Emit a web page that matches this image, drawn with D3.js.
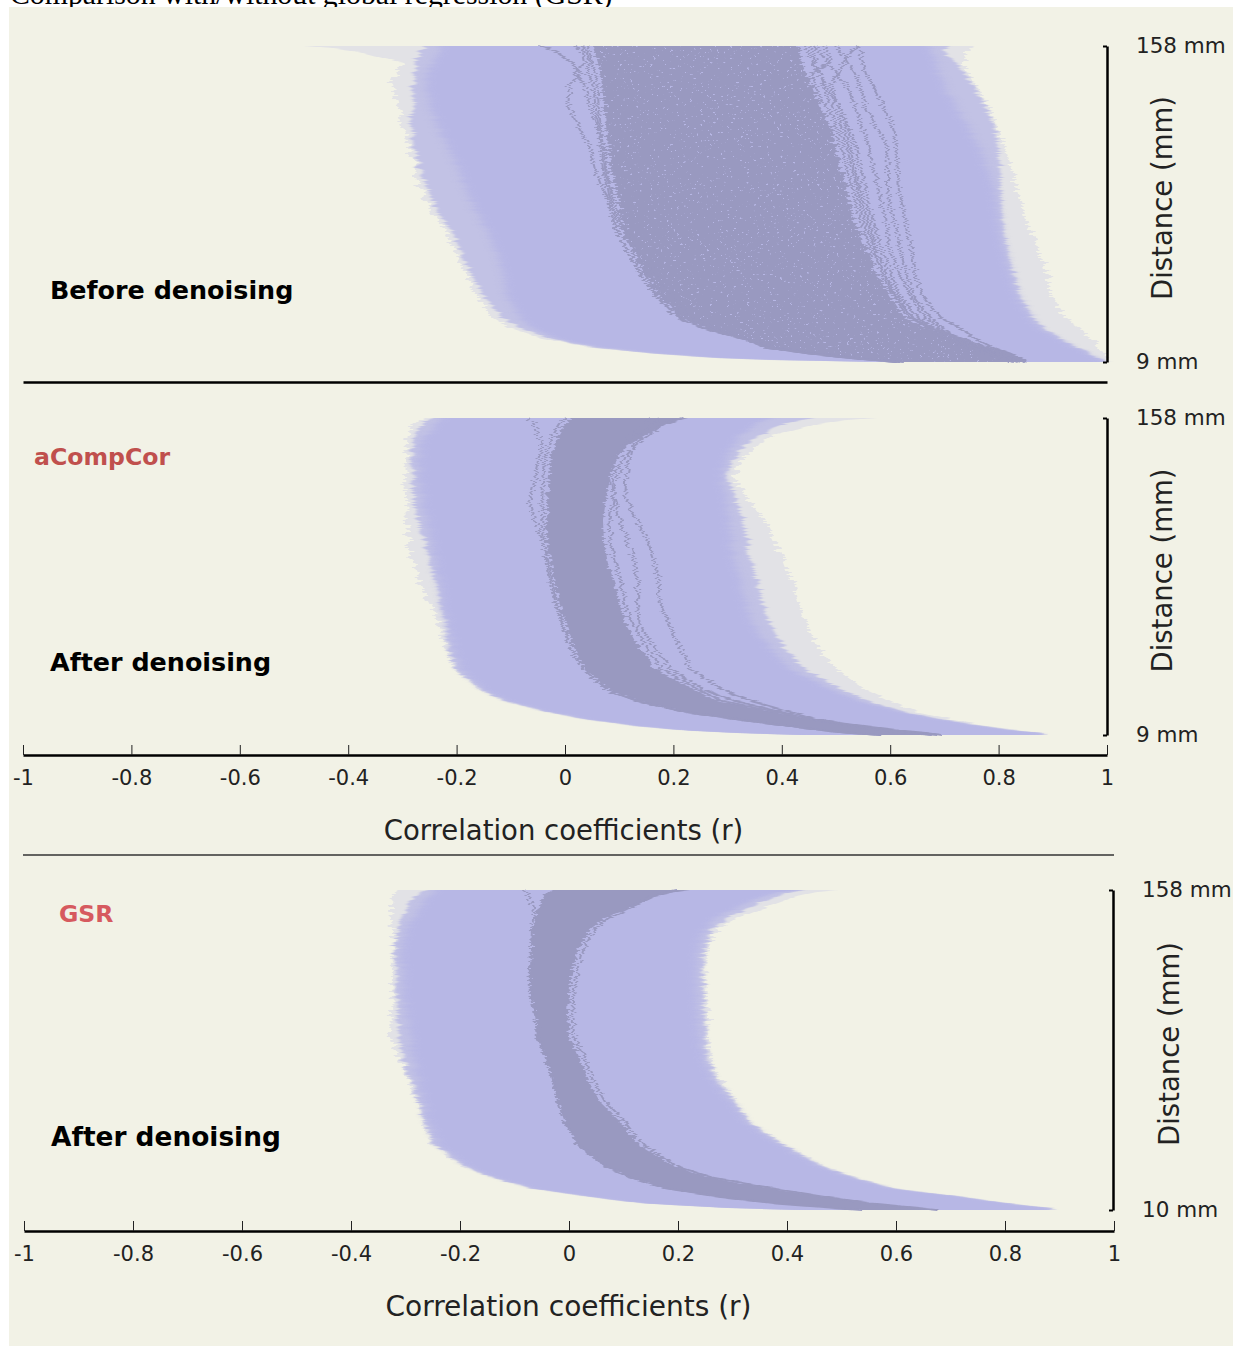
<!DOCTYPE html>
<html>
<head>
<meta charset="utf-8">
<script src="https://cdn.jsdelivr.net/npm/d3@7"></script>
<style>
  body { margin: 0; background: #fff; }
  text { font-family: "DejaVu Sans", sans-serif; fill: #222; }
  .axis .domain { stroke: #000; stroke-width: 2.5; }
  .axis line { stroke: #222; stroke-width: 1; }
  .axis text { font-family: "DejaVu Sans", sans-serif; fill: #222; }
</style>
</head>
<body>
<div class="graphic"></div>
<script>
// distance levels (mm)
const distance = [158, 157, 155, 150, 145, 140, 130, 120, 110, 100, 90, 80, 70, 60, 50, 40, 30, 25, 20, 16, 13, 11, 10, 9]
const distance_gsr = [158, 157, 155, 150, 145, 140, 130, 120, 110, 100, 90, 80, 70, 60, 50, 40, 30, 25, 20, 16, 13, 11, 10]

const r_ticks = [-1, -0.8, -0.6, -0.4, -0.2, 0, 0.2, 0.4, 0.6, 0.8, 1]
const mm_ticks = [9, 158]
const mm_ticks_gsr = [10, 158]

// before denoising: envelopes, r at each distance
const before_grey_lo = [-.480,-.434,-.378,-.301,-.312,-.321,-.310,-.297,-.286,-.279,-.268,-.245,-.220,-.201,-.183,-.162,-.135,-.101,-.037,.046,.157,.268,.378,.581]
const before_grey_hi = [.756,.747,.740,.734,.747,.756,.780,.797,.812,.825,.834,.845,.860,.876,.889,.898,.923,.952,.970,.982,.991,.997,.998,1.0]
const before_light_lo = [-.258,-.260,-.268,-.275,-.279,-.280,-.282,-.284,-.279,-.268,-.253,-.234,-.208,-.190,-.172,-.149,-.116,-.083,-.028,.050,.161,.271,.382,.581]
const before_light_hi = [.710,.703,.699,.723,.738,.751,.775,.793,.799,.803,.804,.806,.810,.817,.828,.839,.862,.881,.914,.943,.969,.984,.991,.998]
const before_blue_lo = [-.231,-.232,-.236,-.245,-.253,-.256,-.249,-.234,-.216,-.197,-.183,-.164,-.142,-.125,-.114,-.107,-.083,-.061,-.013,.065,.175,.286,.397,.581]
const before_blue_hi = [.673,.673,.677,.685,.692,.699,.720,.744,.766,.780,.793,.799,.803,.812,.823,.836,.858,.876,.910,.939,.965,.980,.987,.995]
const before_dark_lo = [.052,.052,.055,.061,.065,.068,.072,.076,.079,.085,.094,.101,.109,.129,.149,.175,.212,.260,.332,.373,.452,.526,.568,.618]
const before_dark_hi = [.434,.434,.434,.437,.445,.456,.470,.489,.500,.511,.522,.530,.544,.559,.578,.600,.627,.664,.729,.775,.812,.830,.839,.849]

// single subjects that leave the dark mass
const before_line_a = [.539,.540,.544,.550,.555,.565,.587,.605,.611,.614,.616,.625,.633,.640,.646,.659,.692,.729,.758,.788,.821,.839,.847,.852]
const before_line_b = [.502,.504,.509,.522,.535,.542,.554,.574,.594,.596,.596,.603,.613,.620,.631,.642,.673,.696,.725,.766,.803,.825,.836,.843]
const before_line_c = [.461,.463,.470,.485,.500,.518,.535,.548,.559,.570,.579,.589,.594,.603,.618,.637,.664,.688,.720,.756,.793,.817,.828,.839]
const before_line_d = [.445,.445,.448,.458,.470,.482,.504,.522,.537,.546,.555,.563,.574,.589,.603,.618,.651,.677,.710,.747,.784,.808,.821,.832]
const before_line_e = [.539,.535,.526,.513,.504,.493,.504,.517,.526,.535,.544,.555,.566,.577,.592,.609,.640,.666,.701,.738,.775,.799,.812,.825]
const before_line_f = [-.044,-.033,-.015,.013,.028,.009,.006,.024,.046,.055,.070,.092,.111,.138,.166,.197,.234,.279,.338,.387,.461,.535,.577,.627]
const before_line_g = [.018,.024,.033,.037,.015,.037,.046,.059,.072,.076,.083,.098,.112,.130,.150,.180,.220,.268,.335,.378,.455,.530,.570,.620]
const before_line_h = [.455,.456,.458,.462,.470,.478,.492,.508,.520,.530,.540,.548,.560,.575,.592,.612,.640,.676,.735,.778,.815,.833,.842,.850]
const before_line_i = [.478,.480,.484,.490,.455,.462,.480,.498,.510,.520,.532,.540,.552,.568,.586,.606,.634,.670,.732,.776,.813,.832,.840,.850]
const before_line_j = [.040,.042,.045,.050,.055,.060,.062,.066,.070,.074,.082,.090,.098,.118,.140,.168,.206,.254,.328,.370,.448,.522,.565,.615]
const before_line_k = [.030,.035,.040,.046,.040,.052,.056,.062,.066,.070,.078,.085,.095,.120,.142,.170,.208,.256,.330,.371,.450,.524,.566,.616]

// after denoising, aCompCor
const acomp_grey_lo = [-.258,-.267,-.278,-.290,-.292,-.293,-.295,-.293,-.292,-.288,-.282,-.267,-.247,-.231,-.221,-.207,-.157,-.111,-.037,.046,.138,.232,.304,.434]
const acomp_grey_hi = [.572,.517,.461,.387,.352,.332,.310,.341,.369,.389,.406,.421,.434,.448,.467,.500,.559,.600,.650,.720,.784,.839,.880,.886]
const acomp_light_lo = [-.245,-.253,-.262,-.275,-.280,-.282,-.282,-.279,-.271,-.260,-.249,-.238,-.229,-.219,-.214,-.201,-.153,-.109,-.035,.048,.140,.232,.306,.434]
const acomp_light_hi = [.461,.434,.397,.360,.332,.314,.297,.314,.327,.336,.345,.356,.365,.382,.406,.443,.513,.559,.622,.701,.775,.834,.876,.882]
const acomp_blue_lo = [-.229,-.232,-.240,-.256,-.268,-.271,-.269,-.264,-.256,-.247,-.240,-.232,-.225,-.216,-.208,-.194,-.149,-.105,-.031,.052,.144,.236,.310,.434]
const acomp_blue_hi = [.378,.369,.351,.327,.308,.301,.290,.297,.304,.308,.315,.325,.334,.351,.378,.415,.494,.544,.614,.696,.771,.830,.873,.880]
const acomp_dark_lo = [.009,.006,-.002,-.013,-.020,-.026,-.030,-.033,-.033,-.033,-.026,-.018,-.009,.002,.017,.037,.083,.138,.221,.332,.424,.489,.526,.581]
const acomp_dark_hi = [.227,.212,.190,.148,.116,.098,.083,.076,.070,.072,.079,.092,.101,.116,.138,.166,.240,.282,.378,.461,.554,.618,.664,.692]

const acomp_line_a = [.175,.172,.161,.138,.124,.120,.113,.111,.133,.153,.166,.173,.175,.194,.214,.231,.293,.345,.415,.470,.544,.600,.637,.683]
const acomp_line_b = [.157,.153,.142,.124,.105,.094,.087,.090,.101,.116,.127,.135,.135,.138,.166,.194,.258,.314,.397,.461,.535,.590,.627,.673]
const acomp_line_c = [-.065,-.063,-.057,-.050,-.044,-.046,-.055,-.065,-.055,-.041,-.030,-.022,-.013,-.002,.013,.033,.079,.134,.217,.328,.420,.485,.522,.577]
const acomp_line_d = [.215,.200,.180,.155,.128,.110,.095,.088,.082,.084,.092,.105,.113,.128,.150,.178,.248,.290,.385,.465,.556,.620,.665,.692]
const acomp_line_e = [.000,-.004,-.010,-.022,-.030,-.036,-.040,-.042,-.040,-.040,-.034,-.026,-.016,-.004,.012,.032,.078,.132,.216,.328,.420,.486,.524,.578]

// after denoising, GSR
const gsr_grey_lo = [-.310,-.317,-.325,-.327,-.325,-.323,-.323,-.323,-.323,-.325,-.327,-.312,-.295,-.277,-.266,-.248,-.191,-.141,-.068,.039,.139,.277,.424]
const gsr_grey_hi = [.494,.451,.415,.360,.310,.273,.251,.250,.251,.253,.255,.259,.277,.306,.336,.396,.470,.525,.598,.727,.809,.883,.892]
const gsr_light_lo = [-.259,-.273,-.284,-.295,-.306,-.314,-.317,-.317,-.316,-.314,-.310,-.303,-.292,-.275,-.264,-.246,-.189,-.139,-.066,.040,.141,.279,.424]
const gsr_light_hi = [.433,.406,.378,.332,.292,.262,.246,.244,.246,.248,.250,.253,.272,.301,.332,.393,.466,.521,.594,.723,.806,.879,.888]
const gsr_blue_lo = [-.248,-.251,-.259,-.273,-.288,-.301,-.308,-.306,-.305,-.299,-.292,-.286,-.277,-.268,-.257,-.240,-.185,-.136,-.062,.044,.145,.283,.424]
const gsr_blue_hi = [.424,.387,.354,.310,.268,.251,.237,.235,.235,.237,.240,.248,.266,.297,.328,.389,.462,.517,.591,.719,.802,.875,.886]
const gsr_dark_lo = [-.031,-.039,-.046,-.057,-.062,-.068,-.070,-.072,-.072,-.062,-.059,-.042,-.031,-.020,-.007,.015,.066,.112,.176,.277,.378,.479,.534]
const gsr_dark_hi = [.222,.194,.158,.116,.066,.039,.015,.006,.000,-.002,.002,.020,.035,.057,.097,.130,.194,.255,.369,.470,.552,.635,.675]

const gsr_line_a = [-.081,-.079,-.075,-.068,-.064,-.066,-.068,-.070,-.070,-.060,-.057,-.040,-.029,-.018,-.005,.017,.068,.114,.178,.279,.380,.481,.536]
const gsr_line_b = [.200,.180,.148,.112,.072,.048,.024,.014,.008,.006,.010,.028,.044,.066,.104,.138,.200,.262,.373,.473,.554,.636,.676]

const width = 1237
const height = 1347

const colors = {grey: "#e2e2e6", light: "#c2c2e5", blue: "#b7b7e5", dark: "#9999c0"}

let svg = d3.select(".graphic").append("svg")
    .attr("width", width)
    .attr("height", height)
    .style("display", "block")

svg.append("text")
    .attr("x", 10)
    .attr("y", 4)
    .style("font-family", "'Liberation Serif', serif")
    .style("font-size", "29.8px")
    .style("fill", "#000")
    .text("Comparison with/without global regression (GSR)")

svg.append("rect")
    .attr("x", 9)
    .attr("y", 7)
    .attr("width", 1224)
    .attr("height", 1339)
    .attr("fill", "#f2f2e6")

// the edges of the real figure are hairy, this shakes the shapes sideways only
let defs = svg.append("defs")

function addRough(id, freq, scale, seed, blur, speckle){
    let f = defs.append("filter")
        .attr("id", id)
        .attr("filterUnits", "userSpaceOnUse")
        .attr("x", 0).attr("y", 0)
        .attr("width", width).attr("height", height)
        .attr("color-interpolation-filters", "sRGB")

    f.append("feTurbulence")
        .attr("type", "fractalNoise")
        .attr("baseFrequency", freq)
        .attr("numOctaves", 2)
        .attr("seed", seed)
        .attr("result", "noise")
    f.append("feColorMatrix")
        .attr("in", "noise")
        .attr("type", "matrix")
        .attr("values", "1 0 0 0 0  0 0 0 0 0.5  0 0 0 0 0.5  0 0 0 0 1")
        .attr("result", "shift")
    f.append("feDisplacementMap")
        .attr("in", "SourceGraphic")
        .attr("in2", "shift")
        .attr("scale", scale)
        .attr("xChannelSelector", "R")
        .attr("yChannelSelector", "G")
        .attr("result", "moved")

    let last = "moved"
    if (speckle){
        f.append("feTurbulence")
            .attr("type", "fractalNoise")
            .attr("baseFrequency", "0.3 0.5")
            .attr("numOctaves", 2)
            .attr("seed", seed + 3)
            .attr("result", "spots")
        f.append("feColorMatrix")
            .attr("in", "spots")
            .attr("type", "matrix")
            .attr("values", "0 0 0 0 0  0 0 0 0 0  0 0 0 0 0  14 0 0 0 " + speckle)
            .attr("result", "holes")
        f.append("feComposite")
            .attr("in", "moved")
            .attr("in2", "holes")
            .attr("operator", "out")
            .attr("result", "holed")
        last = "holed"
    }
    f.append("feGaussianBlur")
        .attr("in", last)
        .attr("stdDeviation", blur)
}

addRough("rough-grey", "0.006 0.42", 18, 3, "0.6")
addRough("rough-light", "0.006 0.42", 14, 11, "1.5 0.3")
addRough("rough-blue", "0.006 0.42", 10, 19, "4 0.3")
addRough("rough-dark", "0.01 0.5", 11, 7, "0.5")
addRough("rough-dark-holes", "0.01 0.5", 16, 7, "0.5", -9.7)
addRough("rough-line", "0.02 0.55", 12, 5, "0.3")

function drawPanel(p){
    let x = d3.scaleLinear().domain([-1, 1]).range(p.xRange)
    let y = d3.scaleLinear().domain(d3.extent(p.levels)).range(p.yRange)

    let band = function(lo, hi){
        return d3.area()
            .x0((d, i) => x(lo[i]))
            .x1((d, i) => x(hi[i]))
            .y(d => y(d))(p.levels)
    }

    let layers = [
        {lo: p.grey[0], hi: p.grey[1], fill: colors.grey, filter: "rough-grey"},
        {lo: p.light[0], hi: p.light[1], fill: colors.light, filter: "rough-light"},
        {lo: p.blue[0], hi: p.blue[1], fill: colors.blue, filter: "rough-blue"},
        {lo: p.dark[0], hi: p.dark[1], fill: colors.dark, filter: p.holes ? "rough-dark-holes" : "rough-dark"}
    ]

    svg.append("g").selectAll("path")
        .data(layers)
        .enter()
        .append("path")
        .attr("d", d => band(d.lo, d.hi))
        .attr("fill", d => d.fill)
        .attr("filter", d => "url(#" + d.filter + ")")

    let line = d3.line()
        .x(d => x(d[0]))
        .y(d => y(d[1]))

    svg.append("g")
        .attr("filter", "url(#rough-line)")
        .selectAll("path")
        .data(p.lines)
        .enter()
        .append("path")
        .attr("d", d => line(d.map((v, i) => [v, p.levels[i]])))
        .attr("fill", "none")
        .attr("stroke", colors.dark)
        .attr("stroke-width", 2)

    // bracket with the two distances
    let yAxis = d3.axisRight(y)
        .tickValues(p.mm)
        .tickSizeInner(-4)
        .tickSizeOuter(0)
        .tickPadding(p.mmPad)
        .tickFormat(d => d + " mm")

    let gy = svg.append("g")
        .attr("class", "axis")
        .attr("transform", "translate(" + p.bracketX + ",0)")
        .call(yAxis)
    gy.selectAll("text").style("font-size", "21.5px")
    gy.selectAll(".tick line").attr("stroke", "#000").style("stroke-width", 2).style("stroke", "#000")

    svg.append("text")
        .attr("transform", "translate(" + p.mmLabelX + "," + (d3.mean(p.yRange) - 6) + ") rotate(-90)")
        .attr("text-anchor", "middle")
        .style("font-size", "27.5px")
        .text("Distance (mm)")

    svg.append("text")
        .attr("x", p.name[1])
        .attr("y", p.name[2])
        .style("font-weight", "bold")
        .style("font-size", p.name[3] + "px")
        .style("fill", "#000")
        .text(p.name[0])

    if (p.method){
        svg.append("text")
            .attr("x", p.method[1])
            .attr("y", p.method[2])
            .style("font-weight", "bold")
            .style("font-size", "23.6px")
            .style("fill", p.method[3])
            .text(p.method[0])
    }

    // bottom axis, the first panel only gets the bare rule
    let xAxis = d3.axisBottom(x)
        .tickValues(p.ticks ? r_ticks : [])
        .tickSizeInner(-10)
        .tickSizeOuter(0)
        .tickPadding(15)
        .tickFormat(String)

    let gx = svg.append("g")
        .attr("class", "axis")
        .attr("transform", "translate(0," + p.axisY + ")")
        .call(xAxis)
    gx.selectAll("text").style("font-size", "21px")

    if (p.ticks){
        svg.append("text")
            .attr("x", p.titleX)
            .attr("y", p.axisY + 85)
            .attr("text-anchor", "middle")
            .style("font-size", p.titleSize + "px")
            .text("Correlation coefficients (r)")
    }
}

drawPanel({
    levels: distance, xRange: [23, 1107], yRange: [362, 46], mm: mm_ticks, mmPad: 29, bracketX: 1107, mmLabelX: 1172,
    grey: [before_grey_lo, before_grey_hi], light: [before_light_lo, before_light_hi],
    blue: [before_blue_lo, before_blue_hi], dark: [before_dark_lo, before_dark_hi], holes: true,
    lines: [before_line_a, before_line_b, before_line_c, before_line_d, before_line_e, before_line_f, before_line_g,
        before_line_h, before_line_i, before_line_j, before_line_k],
    name: ["Before denoising", 50, 299, 25.4], axisY: 382, ticks: false
})

drawPanel({
    levels: distance, xRange: [23, 1107], yRange: [735, 418], mm: mm_ticks, mmPad: 29, bracketX: 1107, mmLabelX: 1172,
    grey: [acomp_grey_lo, acomp_grey_hi], light: [acomp_light_lo, acomp_light_hi],
    blue: [acomp_blue_lo, acomp_blue_hi], dark: [acomp_dark_lo, acomp_dark_hi], holes: false,
    lines: [acomp_line_a, acomp_line_b, acomp_line_c, acomp_line_d, acomp_line_e],
    name: ["After denoising", 50, 671, 25.4], method: ["aCompCor", 34, 465, "#c0504d"],
    axisY: 755, ticks: true, titleX: 563.5, titleSize: 27.5
})

svg.append("line")
    .attr("x1", 23)
    .attr("x2", 1114)
    .attr("y1", 855)
    .attr("y2", 855)
    .attr("stroke", "#333")
    .attr("stroke-width", 1.6)

drawPanel({
    levels: distance_gsr, xRange: [24, 1114], yRange: [1210, 890], mm: mm_ticks_gsr, mmPad: 29, bracketX: 1113, mmLabelX: 1179,
    grey: [gsr_grey_lo, gsr_grey_hi], light: [gsr_light_lo, gsr_light_hi],
    blue: [gsr_blue_lo, gsr_blue_hi], dark: [gsr_dark_lo, gsr_dark_hi], holes: false,
    lines: [gsr_line_a, gsr_line_b],
    name: ["After denoising", 51, 1146, 26.4], method: ["GSR", 59, 922, "#d65a5f"],
    axisY: 1231, ticks: true, titleX: 568.5, titleSize: 28
})
</script>
</body>
</html>
